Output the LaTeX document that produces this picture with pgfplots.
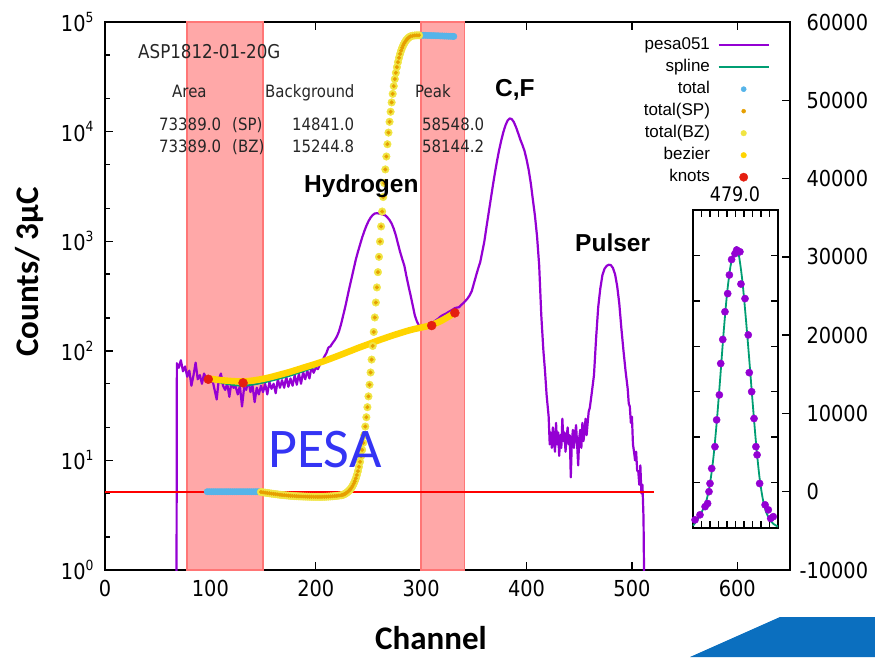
\documentclass[border=0pt]{standalone}
\usepackage{fontspec}
\usepackage{pgfplots}
\usepackage{pgfplotstable}
\pgfplotsset{compat=1.18}
\setmainfont{DejaVu Sans}
\newfontfamily\tickfont[FakeStretch=0.88]{DejaVu Sans}
\newfontfamily\arial{Liberation Sans}
\newfontfamily\calibri{Carlito}
\definecolor{gpviolet}{HTML}{9400D3}
\definecolor{gpgreen}{HTML}{009E73}
\definecolor{gpblue}{HTML}{56B4E9}
\definecolor{gporange}{HTML}{E69F00}
\definecolor{gpyellow}{HTML}{F0E442}
\definecolor{gpgold}{HTML}{FFD400}
\definecolor{gpred}{HTML}{E51E10}
\definecolor{shade}{HTML}{FFA8A8}
\definecolor{shadeedge}{HTML}{FF7676}
\definecolor{pesablue}{HTML}{3434F4}
\definecolor{logoblue}{HTML}{0B6FBF}
\newcommand\pw[1]{10\raisebox{0.42em}{\fontsize{14}{14}\selectfont #1}}
\pgfplotsset{
  lineleg/.style={legend image code/.code={\draw[##1] (0pt,0pt) -- (50pt,0pt);}},
  markleg/.style={legend image code/.code={\draw[mark repeat=2,mark phase=2,##1] plot coordinates {(0pt,0pt) (25pt,0pt) (50pt,0pt)};}},
  frame/.style={axis line style={line width=1.6pt}, tick style={black,line width=1.4pt},
    tick align=inside, major tick length=8pt, minor tick length=5pt},
}
% cumulative totals (right scale)
\pgfplotstableread{
ch tot
148 -40
150 -80
152 -120
154 -160
156 -200
158 -240
160 -280
162 -315
164 -350
166 -385
168 -415
170 -445
172 -470
174 -495
176 -520
178 -540
180 -560
182 -575
184 -590
186 -600
188 -610
190 -620
192 -630
194 -640
196 -645
198 -650
200 -655
202 -655
204 -655
206 -650
208 -645
210 -635
212 -620
214 -600
216 -580
218 -555
220 -525
222 -490
224 -455
225 -420
226 -380
227 -320
228 -250
229 -160
230 -60
231 67
232 196
233 353
234 540
235 763
236 1030
237 1342
238 1708
239 2132
240 2621
241 3181
242 3818
243 4537
244 5339
245 6241
246 7231
247 8322
248 9513
249 10798
250 12177
251 13663
252 15231
253 16881
254 18620
255 20407
256 22258
257 24168
258 26095
259 28047
260 30003
261 31955
262 33882
263 35792
264 37643
265 39430
266 41169
267 42819
268 44387
269 45873
270 47252
271 48537
272 49728
273 50819
274 51809
275 52711
276 53513
277 54232
278 54869
279 55429
280 55918
281 56342
282 56708
283 57020
284 57286
285 57510
286 57698
287 57852
288 57982
289 58088
290 58177
292 58250
294 58280
296 58300
298 58300
}\cumtable
\begin{document}
\begin{tikzpicture}
\useasboundingbox (0,0) rectangle (875pt,657pt);

% counts, log scale
\begin{axis}[frame,
  at={(105pt,87pt)}, anchor=south west, scale only axis,
  width=685pt, height=548pt,
  xmin=0, xmax=650, ymode=log, ymin=1, ymax=100000,
  xtick={0,100,...,600}, ytick={1,10,100,1000,10000,100000},
  yticklabels={\pw{0},\pw{1},\pw{2},\pw{3},\pw{4},\pw{5}},
  minor ytick={2,5,20,50,200,500,2000,5000,20000,50000},
  ytick pos=left,
  tick label style={font=\tickfont\fontsize{22}{24}\selectfont, /pgf/number format/assume math mode=true},
  xticklabel style={yshift=-7pt}, yticklabel style={xshift=-8pt},
]
\addplot[fill=shade, draw=shadeedge, line width=1.5pt] coordinates {(78,1) (78,100000) (150,100000) (150,1)} -- cycle;
\addplot[fill=shade, draw=shadeedge, line width=1.5pt] coordinates {(300,1) (300,100000) (341,100000) (341,1)} -- cycle;
% pesa051
\addplot[gpviolet, line width=2.2pt, line join=round] coordinates {
(67.8,0.3) (68.2,77) (70,70) (72,82) (74,65) (76,72) (78,58) (80,66) (82,48) (84,60) (86,78) (88,55)
(90,60) (92,50) (94,62) (96,56) (98,58) (100,52) (102,54) (104,44) (106,36) (108,55) (110,62) (112,48)
(114,44) (116,50) (118,38) (120,52) (122,46) (124,47) (126,40) (128,48) (130,31) (132,46) (134,44)
(136,55) (138,42) (140,48) (142,34) (144,46) (146,40) (148,48) (150,42) (152,50) (154,40) (156,52)
(158,45) (160,50) (162,41) (164,55) (166,46) (168,54) (170,46) (172,58) (174,47) (176,56) (178,48)
(180,60) (182,49) (184,62) (186,50) (188,64) (190,55) (192,66) (194,56) (196,72) (198,63) (200,70)
(202,68) (204,75) (206,80) (208,88) (210,95) (212,107) (214,110) (216,118) (218,125) (220,135)
(222,150) (224,175) (226,210) (228,252) (230,310) (232,380) (234,460) (236,560) (238,680) (240,800)
(242,930) (244,1080) (246,1230) (248,1380) (250,1520) (252,1640) (254,1730) (256,1790) (258,1800)
(260,1790) (262,1770) (264,1750) (266,1720) (268,1650) (270,1560) (272,1450) (274,1300) (276,1130)
(278,950) (280,800) (282,690) (284,600) (286,480) (288,390) (290,320) (292,260) (294,210) (296,185)
(298,170) (300,165) (302,162) (304,168) (306,166) (308,172) (310,178) (312,184) (314,190) (316,196)
(318,204) (320,210) (322,215) (324,220) (326,226) (328,232) (330,238) (332,245) (334,248) (336,250)
(338,262) (340,272) (342,285) (344,300) (346,320) (348,350) (350,410) (352,480) (354,560) (356,640)
(358,800) (360,1000) (362,1350) (364,1800) (366,2400) (368,3200) (370,4200) (372,5400) (374,6800)
(376,8300) (378,9900) (380,11400) (382,12600) (384,13200) (386,13000) (388,12200) (390,11000)
(392,9700) (394,8500) (396,7600) (398,6700) (400,5600) (402,4500) (404,3400) (406,2400) (408,1700)
(410,1100) (412,600) (414,210) (416,100) (417.5,66) (419,40) (421,25) (422,14) (423,18) (424,13)
(425,20) (426,15) (427,12) (428,22) (429,14) (430,18) (431,11) (432,17) (433,13) (434,24) (435,15)
(436,18) (437,12) (438,16) (439,20) (440,14) (441,17) (442,7) (443,15) (444,19) (445,13) (446,17)
(447,21) (448,14) (449,9) (450,16) (451,19) (452,13) (453,22) (454,15) (455,18) (456,24) (457,17)
(458,22) (459,28) (460,30) (462,42) (464,60) (466,130) (468,250) (470,370) (472,490) (474,560)
(476,595) (478,610) (480,605) (482,570) (484,500) (486,390) (488,270) (490,160) (492,100) (494,65)
(496,45) (497,33) (498,31) (499,22) (500,25) (501,14) (502,12) (503,10) (504,12) (505,8) (506,8)
(507,6) (508,9) (509,5) (510,6) (511,3) (512,0.3)
};
% spline (background)
\addplot[gpgreen, line width=1.8pt, smooth] coordinates {
(100,54) (115,50) (130,48) (145,50) (160,54) (175,59) (190,66) (200,72) (210,81) (220,92) (235,101)
};
% bezier (background)
\addplot[gpgold, line width=6.5pt, smooth] coordinates {
(97,56) (110,54) (120,53) (130,52.5) (140,53.5) (150,55.5) (160,58.5) (175,64) (190,71) (200,76)
(210,82) (225,93) (240,106) (250,115) (260,125) (275,140) (290,155) (300,163) (310,172) (320,190) (332,222)
};
% knots
\addplot[only marks, mark=*, mark size=4.5pt, color=gpred] coordinates {
(98,55) (131,51) (310,170) (332,222)
};
\end{axis}

% cumulative totals, right scale
\begin{axis}[frame,
  at={(105pt,87pt)}, anchor=south west, scale only axis,
  width=685pt, height=548pt,
  xmin=0, xmax=650, ymin=-10000, ymax=60000,
  axis x line=none, axis y line*=right,
  ytick={-10000,0,...,60000}, scaled y ticks=false,
  yticklabels={\llap{-}10000,0,10000,20000,30000,40000,50000,60000},
  yticklabel style={font=\tickfont\fontsize{22}{24}\selectfont, xshift=13pt},
  legend style={at={(0.971,0.9754)}, anchor=north east, draw=none, fill=none, inner sep=0pt,
    font=\arial\fontsize{17}{19}\selectfont, legend plot pos=right, legend cell align=right,
    column sep=6pt, row sep=3pt, nodes={inner sep=1.5pt, text height=12.5pt, text depth=3.5pt}},
]
\addlegendimage{lineleg, gpviolet, line width=2.5pt}
\addlegendimage{lineleg, gpgreen, line width=2.5pt}
\addlegendimage{markleg, only marks, mark=*, mark size=2.6pt, gpblue}
\addlegendimage{markleg, only marks, mark=*, mark size=2pt, gporange}
\addlegendimage{markleg, only marks, mark=*, mark size=2.8pt, gpyellow}
\addlegendimage{markleg, only marks, mark=*, mark size=2.8pt, gpgold}
\addlegendimage{markleg, only marks, mark=*, mark size=4.2pt, gpred}
\legend{pesa051,spline,total,total(SP),total(BZ),bezier,knots}
\addplot[red, line width=1.8pt, forget plot] coordinates {(0,0) (521,0)};
% total
\addplot[only marks, mark=*, mark size=3.2pt, color=gpblue, forget plot] coordinates {
(97,0) (99,0) (101,0) (103,0) (105,0) (107,0) (109,0) (111,0) (113,0) (115,0) (117,0) (119,0) (121,0)
(123,0) (125,0) (127,0) (129,0) (131,0) (133,0) (135,0) (137,0) (139,0) (141,0) (143,0) (145,0) (147,0)
(300,58300) (302,58300) (304,58300) (306,58280) (308,58280) (310,58260) (312,58260) (314,58240)
(316,58240) (318,58220) (320,58220) (322,58200) (324,58200) (326,58180) (328,58180) (330,58160) (331,58160)
};
% total(BZ) and total(SP)
\addplot[only marks, mark=*, mark size=3.8pt, color=gpyellow, forget plot] table[x=ch, y=tot] {\cumtable};
\addplot[only marks, mark=*, mark size=1.8pt, color=gporange, forget plot] table[x=ch, y=tot] {\cumtable};
\end{axis}

% inset: pulser peak
\begin{axis}[frame,
  at={(693pt,129pt)}, anchor=south west, scale only axis,
  width=85pt, height=318pt,
  xmin=455, xmax=505, ymin=0, ymax=700,
  xtick={460,465,...,500}, ytick={100,200,...,600},
  xticklabels={}, yticklabels={}, major tick length=7pt,
  axis background/.style={fill=white}, clip=false,
]
\addplot[only marks, mark=*, mark size=3.6pt, color=gpviolet] coordinates {
(456.2,18) (459.1,29) (462.1,47) (463.6,54) (464.4,80) (465.0,98) (466.0,131) (467.9,179) (468.9,238)
(470.5,293) (471.3,362) (472.5,415) (473.8,476) (475.4,516) (476.4,557) (477.7,591) (479.7,604)
(480.7,612) (482.6,608) (483.2,537) (485.6,505) (487.5,425) (488.1,342) (489.5,300) (490.9,241)
(492.0,179) (492.7,161) (494.2,98) (497.4,51) (499.3,40) (500.7,21) (502.2,25)
};
\addplot[gpgreen, line width=1.8pt, smooth] coordinates {
(455,5) (457,15) (459,28) (461,42) (463,62) (465,98) (467,155) (469,235) (471,330) (473,430)
(475,515) (477,575) (479,605) (480.5,618) (482,600) (484,545) (486,465) (488,375) (490,280)
(492,190) (494,115) (496,65) (498,35) (500,20) (502,10) (505,3)
};
\end{axis}

\node[anchor=base] at (735pt,455pt) {\tickfont\fontsize{20}{22}\selectfont 479.0};

% text block
\begin{scope}[every node/.style={anchor=base west, inner sep=0pt, text=black!85}]
\node at (138pt,598pt) {\tickfont\fontsize{19}{21}\selectfont ASP1812-01-20G};
\tikzset{every node/.append style={font=\tickfont\fontsize{17}{19}\selectfont}}
\node at (172pt,559pt) {Area};
\node at (265pt,559pt) {Background};
\node at (415pt,559pt) {Peak};
\node at (159pt,526pt) {73389.0};
\node at (232pt,526pt) {(SP)};
\node at (292pt,526pt) {14841.0};
\node at (422pt,526pt) {58548.0};
\node at (159pt,504pt) {73389.0};
\node at (232pt,504pt) {(BZ)};
\node at (292pt,504pt) {15244.8};
\node at (422pt,504pt) {58144.2};
\end{scope}

\begin{scope}[every node/.style={anchor=base west, inner sep=0pt, font=\arial\bfseries\fontsize{24.5}{26}\selectfont}]
\node at (304pt,464pt) {Hydrogen};
\node at (495pt,560pt) {C,F};
\node at (575pt,406pt) {Pulser};
\end{scope}

\node[anchor=base west, inner sep=0pt, text=pesablue] at (268pt,190pt) {\calibri\fontsize{56}{60}\selectfont PESA};

\node[anchor=base, inner sep=0pt] at (431pt,8pt) {\calibri\bfseries\fontsize{33}{36}\selectfont Channel};
\node[anchor=base, inner sep=0pt, rotate=90] at (38pt,385pt) {\calibri\bfseries\fontsize{33}{36}\selectfont Counts/ 3μC};

\fill[logoblue] (690pt,0pt) -- (780pt,40pt) -- (875pt,40pt) -- (875pt,0pt) -- cycle;
\end{tikzpicture}
\end{document}
